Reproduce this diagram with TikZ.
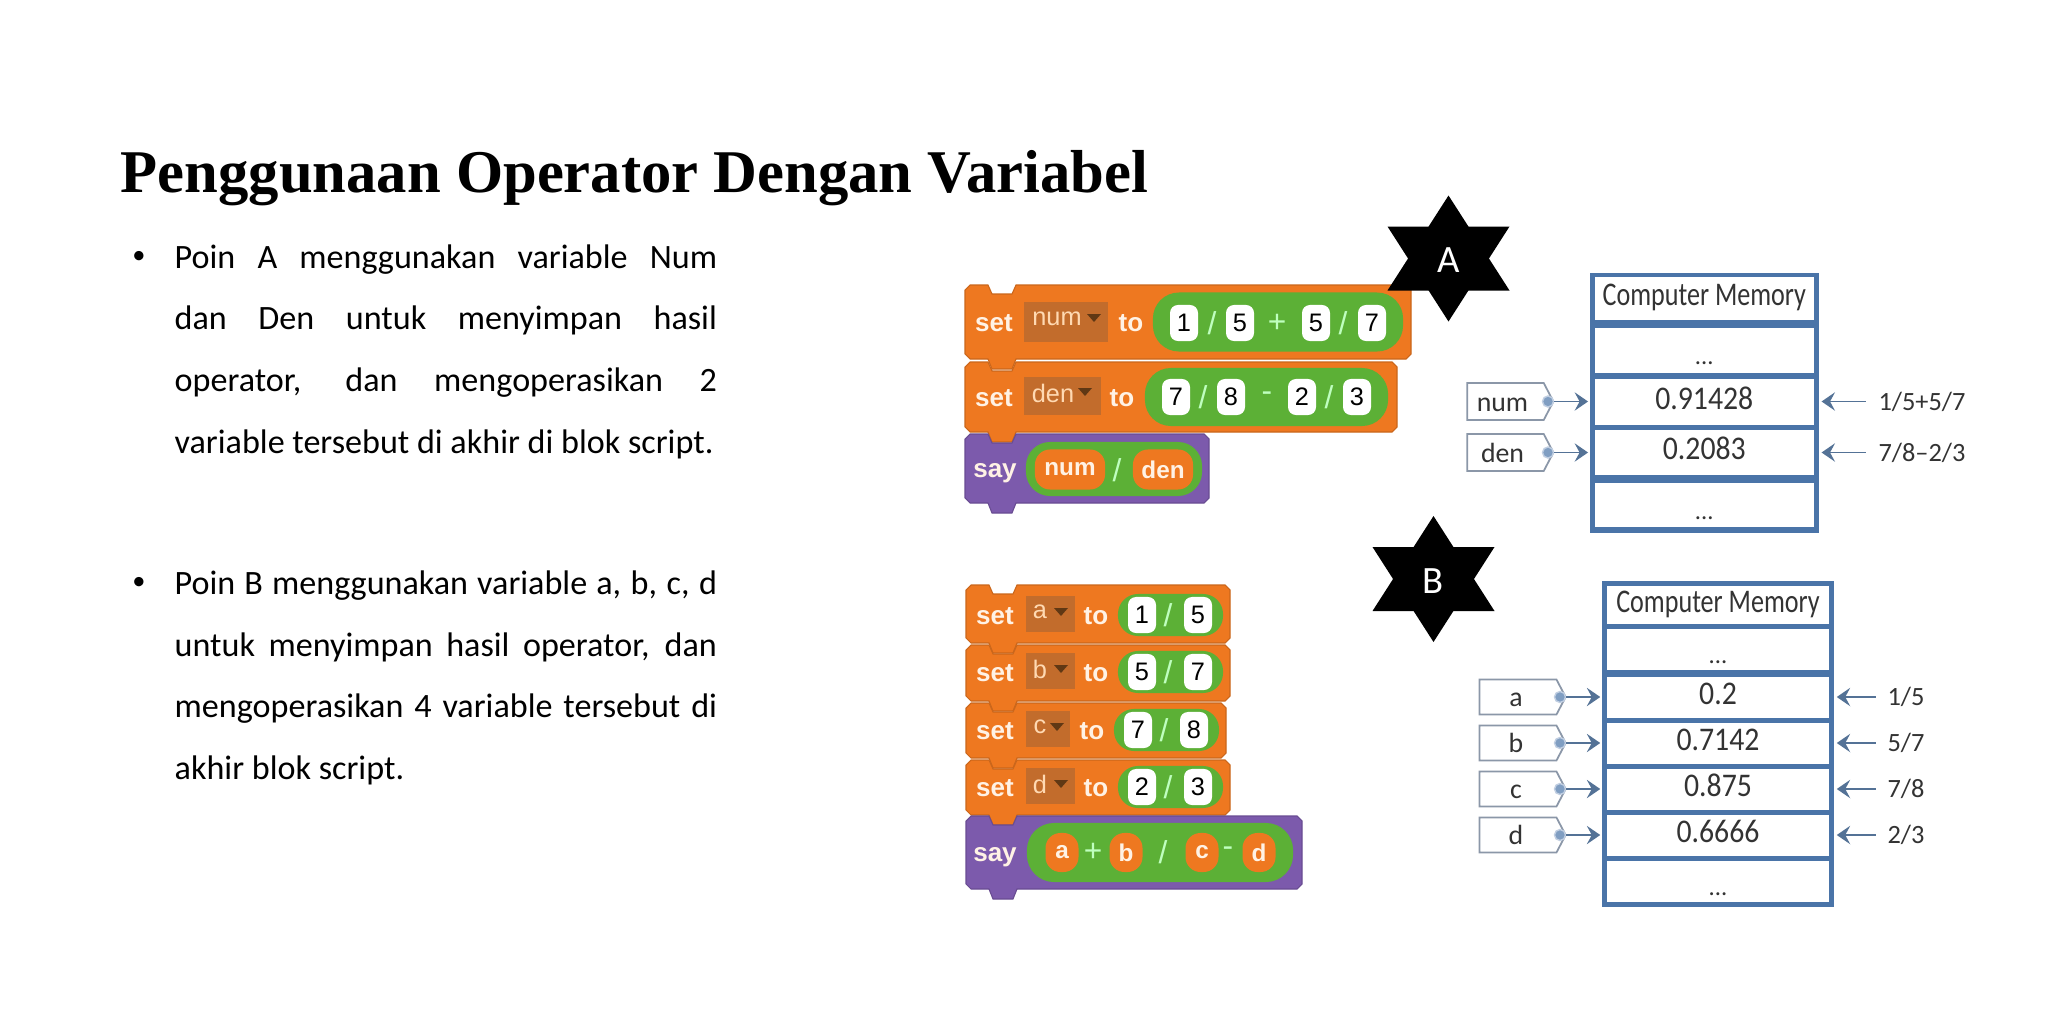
\documentclass[tikz,border=0pt]{standalone}
\usepackage{fontspec}
\usepackage{graphicx}
\setmainfont{Carlito}
\newfontfamily\titlefont{Liberation Serif}
\newfontfamily\blockfont{Liberation Sans}
\usetikzlibrary{positioning, arrows.meta, shapes.geometric, shapes.symbols}
\definecolor{blockOrange}{RGB}{238,120,32}
\definecolor{blockPurple}{RGB}{124,90,172}
\definecolor{blockGreen}{RGB}{92,176,54}
\definecolor{dropBrown}{RGB}{194,108,44}
\definecolor{dropDark}{RGB}{96,56,20}
\definecolor{memBlue}{RGB}{74,116,168}
\definecolor{tagGray}{RGB}{139,151,168}
\definecolor{arrowBlue}{RGB}{84,114,150}
\newcommand{\fsz}[1]{\fontsize{#1}{#1}\selectfont}
\newcommand{\memnum}[1]{\scalebox{0.9}[1]{#1}}
\newcommand{\memhead}[1]{\scalebox{0.79}[1]{#1}}
% blok scratch: x0, y0, x1, y1, warna
\newcommand{\blockshape}[5]{
    \filldraw[fill=#5, draw=#5!85!black, line width=0.3pt] (#1+5,#2) -- (#1+23,#2) -- (#1+27,#2+9) -- (#1+47,#2+9) -- (#1+51,#2)
        -- (#3-5,#2) -- (#3,#2+5) -- (#3,#4-5) -- (#3-5,#4)
        -- (#1+51,#4) -- (#1+47,#4+10) -- (#1+27,#4+10) -- (#1+23,#4)
        -- (#1+5,#4) -- (#1,#4-5) -- (#1,#2+5) -- cycle;
}
% segitiga dropdown: x, y
\newcommand{\droptri}[2]{
    \fill[dropDark] (#1-7,#2-4) -- (#1+7,#2-4) -- (#1,#2+4) -- cycle;
}
% bintang: x, y, huruf
\newcommand{\sixstar}[3]{
    \fill[black] (#1,#2-63) -- (#1+61,#2+32) -- (#1-61,#2+32) -- cycle;
    \fill[black] (#1,#2+63) -- (#1+61,#2-32) -- (#1-61,#2-32) -- cycle;
    \node[starlabel] (star#3) at (#1,#2+2) {#3};
}
\tikzset{
    titletext/.style={
        anchor=base west, inner sep=0pt, font=\titlefont\bfseries\fsz{17.25}
    },
    bodytext/.style={
        anchor=base west, inner sep=0pt, text width=5.42cm, align=justify,
        font=\fontsize{9.7}{17.55}\selectfont
    },
    bullet/.style={
        inner sep=0pt, font=\fsz{7.5}
    },
    starlabel/.style={
        text=white, inner sep=0pt, font=\fsz{11}
    },
    blocktext/.style={
        inner sep=0pt, text=white!90!orange, font=\blockfont\bfseries\fsz{7.4}
    },
    dropbox/.style={
        rectangle, fill=dropBrown, inner sep=0pt, minimum height=0.37cm
    },
    droptext/.style={
        inner sep=0pt, text=orange!30!white, font=\blockfont\fsz{7.2}
    },
    pill/.style={
        rectangle, fill=blockGreen, rounded corners=0.2cm, inner sep=0pt
    },
    slot/.style={
        rectangle, fill=white, rounded corners=0.08cm, inner sep=0pt,
        minimum width=0.28cm, minimum height=0.36cm, font=\blockfont\fsz{7.2}
    },
    oper/.style={
        inner sep=0pt, text=green!25!white, font=\blockfont\fsz{9}
    },
    varpill/.style={
        rectangle, fill=blockOrange, rounded corners=0.15cm, inner sep=0pt,
        minimum height=0.4cm, text=white!90!orange, font=\blockfont\bfseries\fsz{6.9}
    },
    memframe/.style={
        rectangle, fill=memBlue, inner sep=0pt
    },
    memcell/.style={
        rectangle, fill=white, inner sep=0pt, text height=0.23cm, text depth=0.09cm,
        text=black!80, font=\fsz{9.4}
    },
    memdots/.style={
        memcell, text height=0.28cm, text depth=0cm, font=\fsz{7}
    },
    tagbox/.style={
        signal, signal to=east, signal pointer angle=125, draw=tagGray, fill=white,
        line width=0.5pt, inner sep=0pt, minimum height=0.37cm
    },
    taglabel/.style={
        inner sep=0pt, text height=0.19cm, text depth=0cm, text=black!80, font=\fsz{7.9}
    },
    tagdot/.style={
        circle, fill=memBlue!70, draw=memBlue!35, line width=0.4pt, inner sep=0pt, minimum size=0.11cm
    },
    memptr/.style={
        -{Stealth[inset=1.4pt, length=3.8pt, width=5.2pt]}, arrowBlue, line width=0.5pt
    },
    exprtext/.style={
        inner sep=0pt, text=black!80, font=\fsz{7.5}
    }
}

\begin{document}
\begin{tikzpicture}[x=0.01cm, y=-0.01cm]
    \useasboundingbox[fill=white] (0,0) rectangle (2048,1024);

    % --- 1. JUDUL DAN TEKS ---
    \node[titletext] (judul) at (120,192.7) {Penggunaan Operator Dengan Variabel};

    \node[bullet] (bulletA) at (139,257) {\textbullet};
    \node[bodytext] (poinA) at (174,268) {Poin A menggunakan variable Num\linebreak
        dan Den untuk menyimpan hasil\linebreak
        operator, dan mengoperasikan 2\linebreak
        variable tersebut di akhir di blok script.};

    \node[bullet] (bulletB) at (139,583) {\textbullet};
    \node[bodytext] (poinB) at (174,594.5) {Poin B menggunakan variable a, b, c, d\linebreak
        untuk menyimpan hasil operator, dan\linebreak
        mengoperasikan 4 variable tersebut di\linebreak
        akhir blok script.};

    % --- 2. BLOK SCRIPT A ---
    \blockshape{965}{285}{1411}{359}{blockOrange}
    \blockshape{965}{362}{1397}{432}{blockOrange}
    \blockshape{965}{434}{1209}{503}{blockPurple}

    \node[blocktext] (setnum) at (994,323) {set};
    \node[dropbox, minimum width=0.84cm, minimum height=0.39cm] (dropnum) at (1066,322) {};
    \node[droptext] (dropnumtext) at (1057,319) {num};
    \droptri{1094}{318}
    \node[blocktext] (tonum) at (1131,323) {to};
    \node[pill, rounded corners=0.26cm, minimum width=2.5cm, minimum height=0.59cm] (pillnum) at (1278,322) {};
    \foreach \sx/\sv in {1184/1, 1240/5, 1316/5, 1372/7}
        \node[slot] (slotnum\sx) at (\sx,323) {\sv};
    \foreach \ox/\ov in {1212/{/}, 1277/+, 1343/{/}}
        \node[oper] (opernum\ox) at (\ox,323) {\ov};

    \node[blocktext] (setden) at (994,398) {set};
    \node[dropbox, minimum width=0.77cm, minimum height=0.38cm] (dropden) at (1062.5,396) {};
    \node[droptext] (dropdentext) at (1053,393) {den};
    \droptri{1085}{392}
    \node[blocktext] (toden) at (1122,398) {to};
    \node[pill, rounded corners=0.26cm, minimum width=2.43cm, minimum height=0.58cm] (pillden) at (1266.5,397) {};
    \foreach \sx/\sv in {1176/7, 1231/8, 1302/2, 1357/3}
        \node[slot] (slotden\sx) at (\sx,397) {\sv};
    \foreach \ox/\ov in {1203/{/}, 1267/-, 1329/{/}}
        \node[oper] (operden\ox) at (\ox,397) {\ov};

    \node[blocktext] (sayA) at (995,473) {say};
    \node[pill, rounded corners=0.24cm, minimum width=1.76cm, minimum height=0.54cm] (pillsayA) at (1114,469) {};
    \node[varpill, minimum width=0.7cm] (varnum) at (1070,469.5) {num};
    \node[varpill, minimum width=0.6cm] (varden) at (1163,469.5) {den};
    \node[oper] (opersayA) at (1117,470) {/};

    % --- 3. BLOK SCRIPT B ---
    \foreach \ya/\yb/\xb in {585/643/1230, 645/701/1230, 703/758/1226, 760/815/1230}{
        \blockshape{966}{\ya}{\xb}{\yb}{blockOrange}
    }
    \blockshape{966}{816}{1302}{889}{blockPurple}
    \foreach \nm/\yc/\sh/\dw/\dx/\nl/\nr in {
        a/616/0/0.49/1050.5/1/5,
        b/673/0/0.49/1050.5/5/7,
        c/731/-4/0.44/1048/7/8,
        d/788/0/0.49/1050.5/2/3}{
        \node[blocktext] (set\nm) at (995,\yc) {set};
        \node[dropbox, minimum width=\dw cm, minimum height=0.35cm] (drop\nm) at (\dx,\yc-2) {};
        \node[droptext] (droptext\nm) at (1040,\yc-4) {\nm};
        \droptri{1061+\sh}{\yc-4}
        \node[blocktext] (to\nm) at (1096+\sh,\yc) {to};
        \node[pill, minimum width=1.05cm, minimum height=0.42cm] (pill\nm) at (1170.5+\sh,\yc-1) {};
        \node[slot] (slotl\nm) at (1142+\sh,\yc-1) {\nl};
        \node[slot] (slotr\nm) at (1198+\sh,\yc-1) {\nr};
        \node[oper] (oper\nm) at (1168+\sh,\yc-1) {/};
    }
    \node[blocktext] (sayB) at (995,857) {say};
    \node[pill, rounded corners=0.27cm, minimum width=2.66cm, minimum height=0.59cm] (pillsayB) at (1160,852.5) {};
    \foreach \vx/\vv in {1062/a, 1126/b, 1202/c, 1259/d}
        \node[varpill, minimum width=0.33cm, minimum height=0.39cm] (var\vv) at (\vx,852.5) {\vv};
    \foreach \ox/\ov in {1093/+, 1163/{/}, 1228/-}
        \node[oper] (opersayB\ox) at (\ox,852) {\ov};

    % --- 4. BINTANG ---
    \sixstar{1448.5}{258.5}{A}
    \sixstar{1433.5}{579}{B}

    % --- 5. MEMORI A ---
    \node[memframe, minimum width=2.29cm, minimum height=2.6cm] (memA) at (1704.3,403) {};
    \node[memcell, minimum width=2.19cm, minimum height=0.43cm] (headA) at (1704.3,298.5) {\memhead{Computer Memory}};
    \foreach \rn/\ra/\rb/\rt in {cellnum/379/425/0.91428, cellden/430/475/0.2083}
        \node[memcell, minimum width=2.19cm, minimum height={(\rb-\ra)*0.01cm}] (\rn) at (1704.3,{(\ra+\rb)/2}) {\memnum{\rt}};
    \foreach \rn/\ra/\rb in {dotsA/328/373, dotsAb/483/527}
        \node[memdots, minimum width=2.19cm, minimum height={(\rb-\ra)*0.01cm}] (\rn) at (1704.3,{(\ra+\rb)/2}) {...};

    \foreach \nm/\yc/\lx in {num/401.5/{1/5+5/7}, den/452.5/{7/8--2/3}}{
        \node[tagbox, minimum width=0.86cm, label={[taglabel, xshift=-0.03cm]center:\nm}] (tag\nm) at (1505.5,\yc) {};
        \node[tagdot] (dot\nm) at (1548,\yc) {};
        \draw[memptr, shorten >=0.06cm] (dot\nm) -- (dot\nm -| cell\nm.west);
        \node[exprtext] (expr\nm) at (1922,\yc) {\lx};
        \draw[memptr, shorten <=0.12cm, shorten >=0.07cm] (expr\nm.west) -- (expr\nm.west -| cell\nm.east);
    }

    % --- 6. MEMORI B ---
    \node[memframe, minimum width=2.32cm, minimum height=3.26cm] (memB) at (1718,744) {};
    \node[memcell, minimum width=2.22cm, minimum height=0.38cm] (headB) at (1718,605) {\memhead{Computer Memory}};
    \foreach \rn/\ra/\rb/\rt in {cella/677/718/0.2, cellb/723/764/0.7142, cellc/769/810/0.875, celld/815/856/0.6666}
        \node[memcell, minimum width=2.22cm, minimum height={(\rb-\ra)*0.01cm}] (\rn) at (1718,{(\ra+\rb)/2}) {\memnum{\rt}};
    \foreach \rn/\ra/\rb in {dotsB/629/670, dotsBb/861/902}
        \node[memdots, minimum width=2.22cm, minimum height={(\rb-\ra)*0.01cm}] (\rn) at (1718,{(\ra+\rb)/2}) {...};

    \foreach \nm/\yc/\lx in {a/697/{1/5}, b/743/{5/7}, c/789/{7/8}, d/835/{2/3}}{
        \node[tagbox, minimum width=0.86cm, minimum height=0.35cm, label={[taglabel, xshift=-0.02cm]center:\nm}] (tag\nm) at (1518,\yc) {};
        \node[tagdot] (dot\nm) at (1560,\yc) {};
        \draw[memptr, shorten >=0.06cm] (dot\nm) -- (dot\nm -| cell\nm.west);
        \node[exprtext] (expr\nm) at (1906,\yc) {\lx};
        \draw[memptr, shorten <=0.11cm, shorten >=0.07cm] (expr\nm.west) -- (expr\nm.west -| cell\nm.east);
    }
\end{tikzpicture}
\end{document}
